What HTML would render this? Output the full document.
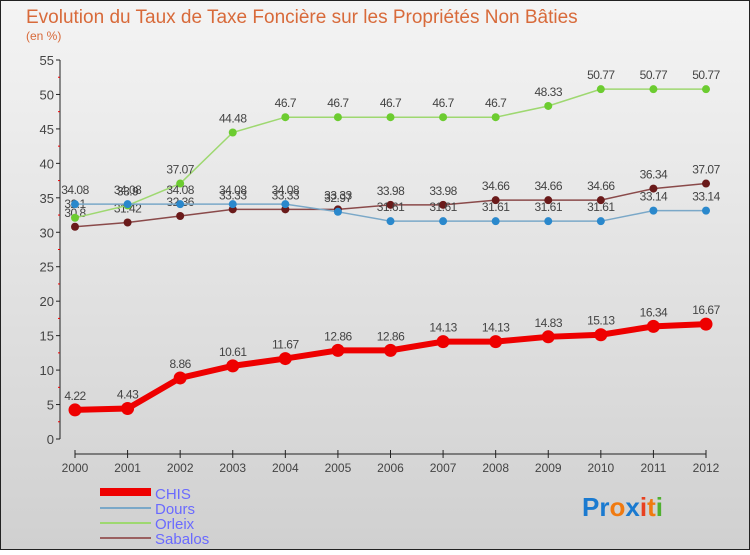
<!DOCTYPE html>
<html><head><meta charset="utf-8"><style>
body{margin:0;width:750px;height:550px;overflow:hidden;font-family:"Liberation Sans",sans-serif}
</style></head><body>
<svg id="c" width="750" height="550" xmlns="http://www.w3.org/2000/svg">
<defs><linearGradient id="bg" x1="0" y1="0" x2="0" y2="1"><stop offset="0" stop-color="#f4f4f4"/><stop offset="1" stop-color="#d0d0d0"/></linearGradient></defs>
<rect x="0.5" y="0.5" width="749" height="549" fill="url(#bg)" stroke="#222"/>
<text x="26" y="23" font-size="19" fill="#d86a3a">Evolution du Taux de Taxe Foncière sur les Propriétés Non Bâties</text>
<text x="26" y="40" font-size="12" fill="#d86a3a">(en %)</text>
<g id="axes"></g><g id="series"></g>
<g>
<rect x="100" y="488" width="51" height="8" fill="#e00"/>
<text x="155" y="499" font-size="15" fill="#6a6aff">CHIS</text>
<line x1="100" y1="508" x2="151" y2="508" stroke="#7aa8c8" stroke-width="2"/>
<text x="155" y="514" font-size="15" fill="#6a6aff">Dours</text>
<line x1="100" y1="523" x2="151" y2="523" stroke="#9ed870" stroke-width="2"/>
<text x="155" y="529" font-size="15" fill="#6a6aff">Orleix</text>
<line x1="100" y1="538" x2="151" y2="538" stroke="#9a6060" stroke-width="2"/>
<text x="155" y="544" font-size="15" fill="#6a6aff">Sabalos</text>
</g>
<text x="582" y="516" font-size="26" font-weight="bold"><tspan fill="#1a7ad0">Pr</tspan><tspan fill="#f07a10">o</tspan><tspan fill="#1a7ad0">x</tspan><tspan fill="#e84020">i</tspan><tspan fill="#f07a10">t</tspan><tspan fill="#50b030">i</tspan></text>
</svg>
<script>
const years=[2000,2001,2002,2003,2004,2005,2006,2007,2008,2009,2010,2011,2012];
const yTicks=[0,5,10,15,20,25,30,35,40,45,50,55];
const chis=[4.22,4.43,8.86,10.61,11.67,12.86,12.86,14.13,14.13,14.83,15.13,16.34,16.67];
const dours=[34.08,34.08,34.08,34.08,34.08,32.97,31.61,31.61,31.61,31.61,31.61,33.14,33.14];
const orleix=[32.1,33.9,37.07,44.48,46.7,46.7,46.7,46.7,46.7,48.33,50.77,50.77,50.77];
const sabalos=[30.8,31.42,32.36,33.33,33.33,33.33,33.98,33.98,34.66,34.66,34.66,36.34,37.07];
const NS="http://www.w3.org/2000/svg";
const X=i=>75+i*(706-75)/12, Y=v=>439-v*(439-60)/55;
function mk(t,a,p){const e=document.createElementNS(NS,t);for(const k in a)e.setAttribute(k,a[k]);p.appendChild(e);return e;}
const ax=document.getElementById('axes'),sr=document.getElementById('series');
const yl=mk('line',{x1:60,y1:60,x2:60,y2:439,stroke:'#222'},ax);


const xl=mk('line',{x1:75,y1:454,x2:706,y2:454,stroke:'#222'},ax);


yTicks.forEach(v=>{const t=mk('text',{x:54,y:Y(v)+5,'font-size':13,fill:'#444','text-anchor':'end'},ax);t.textContent=v;


mk('line',{x1:56,y1:Y(v),x2:60,y2:Y(v),stroke:'#222'},ax);
if(v<55)mk('line',{x1:58,y1:Y(v+2.5),x2:60,y2:Y(v+2.5),stroke:'#e00'},ax);});
years.forEach((yr,i)=>{mk('line',{x1:X(i),y1:450,x2:X(i),y2:458,stroke:'#222'},ax);
const t=mk('text',{x:X(i),y:472,'font-size':12,fill:'#444','text-anchor':'middle'},ax);t.textContent=yr;

});
function draw(data,name,col,dot,w,r,fs){
const g=mk('g',{},sr);


mk('polyline',{points:data.map((v,i)=>X(i)+','+Y(v)).join(' '),fill:'none',stroke:col,'stroke-width':w},g);
data.forEach((v,i)=>{const c=mk('circle',{cx:X(i),cy:Y(v),r:r,fill:dot},g);


const t=mk('text',{x:X(i),y:Y(v)-10,'font-size':fs,fill:'#444','text-anchor':'middle','letter-spacing':'-0.5'},g);t.textContent=v;

});}
draw(sabalos,'sabalos','#8a4a4a','#6a1a1a',1.5,4,12);
draw(orleix,'orleix','#9ed870','#6ccc30',1.5,4,12);
draw(dours,'dours','#7aa8c8','#2a88cc',1.5,4,12);
draw(chis,'chis','#ee0000','#ee0000',6,6.5,12);
</script>
</body></html>
